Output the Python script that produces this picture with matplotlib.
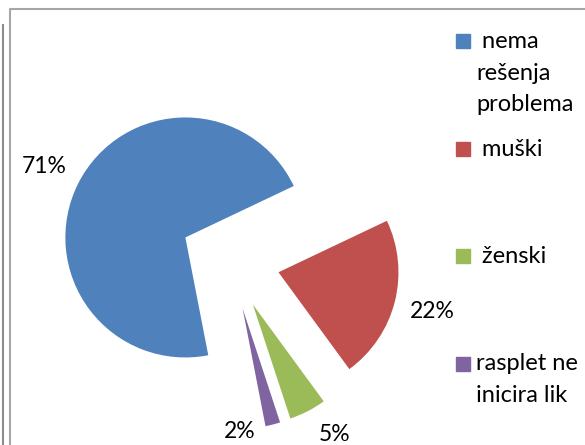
import numpy as np
import matplotlib.pyplot as plt

labels = [' nema\nrešenja\nproblema', ' muški', ' ženski', 'rasplet ne\ninicira lik']
values = [71, 22, 5, 2]
colors = ['#4F81BD', '#C0504D', '#9BBB59', '#8064A2']

plt.rcParams['font.family'] = ['Lato', 'DejaVu Sans']

fig = plt.figure(figsize=(5.85, 4.45), dpi=100)
ax = fig.add_axes([0, 0, 1, 1])

wedges, texts, autotexts = ax.pie(values, colors=colors, startangle=-79, counterclock=False,
                                  center=(230, 185), radius=120, explode=[50, 50, 50, 50],
                                  autopct='%d%%', pctdistance=1.32, frame=True,
                                  textprops={'fontsize': 16.5, 'color': 'black'})
ax.set_xlim(0, 585)
ax.set_ylim(0, 445)
ax.axis('off')

# Excel moved the small labels a bit
lab_dist = [1.32, 1.32, 1.28, 1.03]
lab_shift = [0, 0, 5, -16]
for w, t, d, s in zip(wedges, autotexts, lab_dist, lab_shift):
    a = np.deg2rad((w.theta1 + w.theta2) / 2 + s)
    cx, cy = w.center
    t.set_position((cx + d * w.r * np.cos(a), cy + d * w.r * np.sin(a)))
    t.set_ha('center')
    t.set_va('center')

# legend drawn by hand so the squares line up with the first text line
for i, (lab, col) in enumerate(zip(labels, colors)):
    y = 404 - i * 107.5
    ax.add_patch(plt.Rectangle((456, y - 7), 14, 14, color=col))
    ax.text(476, y + 10, lab, fontsize=17, va='top', ha='left', linespacing=1.62)

# frame lines of the original document
ax.plot([2.5, 2.5], [0, 420], color='#8c8c8c', lw=1.5)
ax.plot([9.5, 9.5, 585], [0, 436, 436], color='#a6a6a6', lw=1.5)

plt.savefig('out.png', dpi=100)
